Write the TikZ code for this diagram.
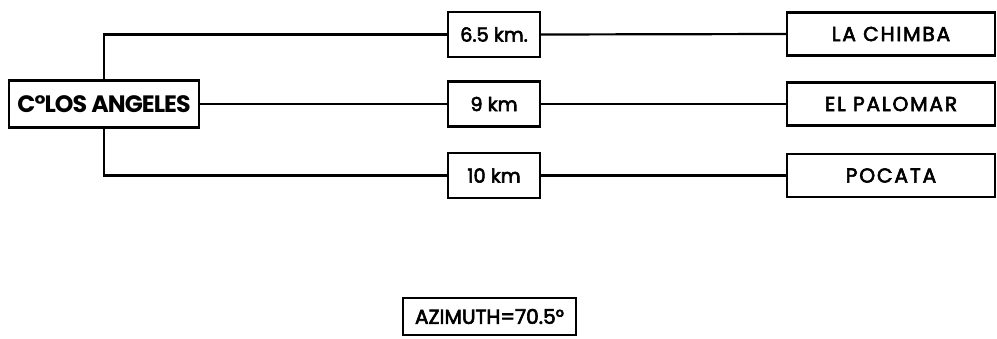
\documentclass[tikz,border=0pt]{standalone}
\usepackage{fontspec}
\setmainfont{Poppins}
\usepackage{tikz}
\usetikzlibrary{positioning}

\begin{document}
\begin{tikzpicture}[x=0.02cm, y=-0.02cm, line width=1.25pt,
  every node/.style={font=\fontsize{11}{13}\selectfont\addfontfeature{FakeBold=3}},
  box/.style={draw, line width=1.25pt, inner sep=2pt, align=center},
  origin/.style={box, minimum width=3.8cm, minimum height=0.94cm, font=\fontsize{13.5}{15}\selectfont\bfseries\addfontfeature{LetterSpace=-4}},
  dist/.style={box, minimum width=1.84cm, minimum height=0.9cm},
  place/.style={box, minimum width=4.16cm, minimum height=0.86cm, font=\fontsize{11.5}{13}\selectfont\addfontfeature{LetterSpace=9,FakeBold=3}},
  conn/.style={line width=1.25pt}]
\useasboundingbox (0,0) rectangle (997,338);
\node[origin] (angeles) at (104,104) {C°LOS ANGELES};
\node[dist] (d1) at (494,34.5) {6.5 km.};
\node[dist] (d2) at (494,104) {9 km};
\node[dist] (d3) at (494,175.5) {10 km};
\node[place] (chimba) at (891,34) {LA CHIMBA};
\node[place] (palomar) at (891,104) {EL PALOMAR};
\node[place] (pocata) at (891,175.5) {POCATA};
\node[box, minimum width=3.46cm, minimum height=0.74cm, font=\fontsize{11.5}{14}\selectfont\addfontfeature{FakeBold=3}] (azimuth) at (489.5,316.5) {AZIMUTH=70.5°};
% trunk lines
\draw[conn] (d1.west) -| (angeles.north);
\draw[conn] (d3.west) -| (angeles.south);
\draw[conn] (angeles.east) -- (d2.west);
% branches
\draw[conn] (d1.east) -- (chimba.west);
\draw[conn] (d2.east) -- (palomar.west);
\draw[conn] (d3.east) -- (pocata.west);
\end{tikzpicture}
\end{document}
